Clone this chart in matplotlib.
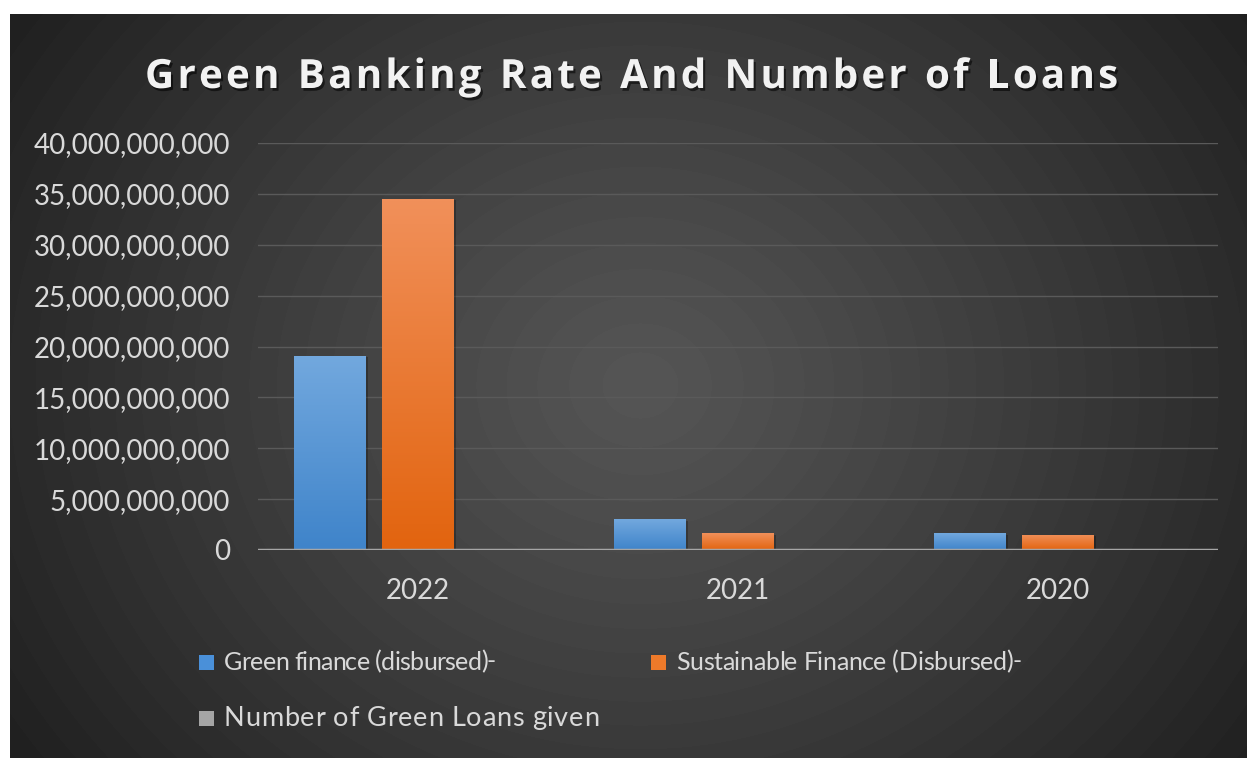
import numpy as np
import matplotlib
matplotlib.use("Agg")
import matplotlib.pyplot as plt
import matplotlib.patheffects as pe
from matplotlib.ticker import FuncFormatter, MultipleLocator

# --- data ---
years = ["2022", "2021", "2020"]
green_finance = [19.1e9, 3.0e9, 1.65e9]
sustainable_finance = [34.5e9, 1.65e9, 1.5e9]
green_loans_count = [1200, 900, 700]   # counts, too small to show on this scale

series_names = ["Green finance (disbursed)-",
                "Sustainable Finance (Disbursed)-",
                "Number of Green Loans given"]
series_values = [green_finance, sustainable_finance, green_loans_count]
top_colors = ["#72A8DE", "#F1905A", "#B5B5B5"]
bottom_colors = ["#3F84CA", "#E2640F", "#909090"]
legend_colors = ["#4A90D9", "#EE7A2A", "#A5A5A5"]

W, H = 1247, 758
fig = plt.figure(figsize=(W / 100, H / 100), dpi=100)
fig.patch.set_facecolor("white")

# --- dark radial background (chart area starts a bit in from top-left) ---
bx0, by1 = 10, 14
bg = fig.add_axes([bx0 / W, 0, 1 - bx0 / W, 1 - by1 / H])
bg.set_axis_off()
yy, xx = np.mgrid[by1:H, bx0:W]
r = np.hypot(xx - 640, (yy - 385) * 1.15)
v = np.clip(0x55 - (0x55 - 0x1F) * (r / 760) ** 1.1, 0x1F, 0x55)
v = np.round(v / 2) * 2 / 255.0  # faint banding like the original
img = np.dstack([v, v, v])
bg.imshow(img, aspect="auto", extent=[0, 1, 0, 1], interpolation="bilinear")
bg.set_xlim(0, 1)
bg.set_ylim(0, 1)

# --- main axes ---
ax = fig.add_axes([258 / W, 1 - 550 / H, (1218 - 258) / W, (550 - 143) / H])
ax.set_facecolor("none")
for s in ax.spines.values():
    s.set_visible(False)

x = np.arange(len(years))
width = 0.222
offset = 0.275
for i, (name, vals) in enumerate(zip(series_names, series_values)):
    bars = ax.bar(x + (i - 1) * offset, vals, width, color=legend_colors[i],
                  label=name, zorder=3)
    grad = np.linspace(0, 1, 64)[:, None]
    c_top = np.array(matplotlib.colors.to_rgb(top_colors[i]))
    c_bot = np.array(matplotlib.colors.to_rgb(bottom_colors[i]))
    g = c_top[None, None, :] * (1 - grad[..., None]) + c_bot[None, None, :] * grad[..., None]
    g = np.repeat(g, 2, axis=1)
    for b in bars:
        bx, by = b.get_x(), b.get_y()
        bw, bh = b.get_width(), b.get_height()
        im = ax.imshow(g, extent=[bx, bx + bw, by, by + bh], aspect="auto",
                       zorder=4, interpolation="bilinear")
        im.set_clip_path(b)
        b.set_path_effects([pe.SimplePatchShadow(offset=(2, -1), shadow_rgbFace="black", alpha=0.25),
                            pe.Normal()])

ax.set_xlim(-0.5, 2.5)
ax.set_ylim(0, 40e9)
ax.yaxis.set_major_locator(MultipleLocator(5e9))
ax.yaxis.set_major_formatter(FuncFormatter(lambda v, p: f"{int(round(v)):,}"))
ax.grid(axis="y", color="#5A5A5A", linewidth=1, zorder=0)
ax.axhline(0, color="#A6A6A6", linewidth=2.5, zorder=5)
ax.set_xticks(x)
ax.set_xticklabels(years)
ax.tick_params(axis="both", length=0, colors="#D9D9D9", labelsize=20)
ax.tick_params(axis="x", pad=20)
ax.tick_params(axis="y", pad=20)
for lab in ax.get_xticklabels() + ax.get_yticklabels():
    lab.set_fontfamily("Lato")

fig.canvas.draw()
renderer = fig.canvas.get_renderer()


def tracked_text(x0, y, s, total_width=None, tracking=0.0, **props):
    """Draw text char by char so the letter spacing can be widened."""
    widths = []
    for ch in s:
        t = fig.text(0, 0, ch if ch != " " else "n", **props)
        w = t.get_window_extent(renderer).width
        if ch == " ":
            w *= 0.45
        widths.append(w)
        t.remove()
    if total_width is not None:
        tracking = (total_width - sum(widths)) / (len(s) - 1)
    cx = x0
    for ch, w in zip(s, widths):
        if ch != " ":
            fig.text(cx / W, 1 - y / H, ch, **props)
        cx += w + tracking


# --- title with letter spacing and shadow ---
title = "Green Banking Rate And Number of Loans"
tracked_text(145, 88, title, total_width=973,
             fontsize=29, fontweight="bold", color="#F2F2F2", family="Open Sans",
             va="baseline", ha="left",
             path_effects=[pe.withSimplePatchShadow(offset=(1.5, -2), shadow_rgbFace="black", alpha=0.55)])

# --- legend ---
handles, labels = ax.get_legend_handles_labels()
leg_pos = [(199, 662), (651, 662), (199, 718)]
leg_widths = [272, 346, 375]
leg_sizes = [18, 18, 19.5]
for (lx, ly), lab, col, lw, fs in zip(leg_pos, labels, legend_colors, leg_widths, leg_sizes):
    fig.patches.append(matplotlib.patches.Rectangle(
        (lx / W, 1 - (ly + 7.5) / H), 15 / W, 15 / H, transform=fig.transFigure,
        facecolor=col, edgecolor="none"))
    tracked_text(lx + 25, ly, lab, total_width=lw, color="#D9D9D9", fontsize=fs,
                 family="Lato", va="center", ha="left")

fig.savefig("out.png", dpi=100, facecolor="white")
